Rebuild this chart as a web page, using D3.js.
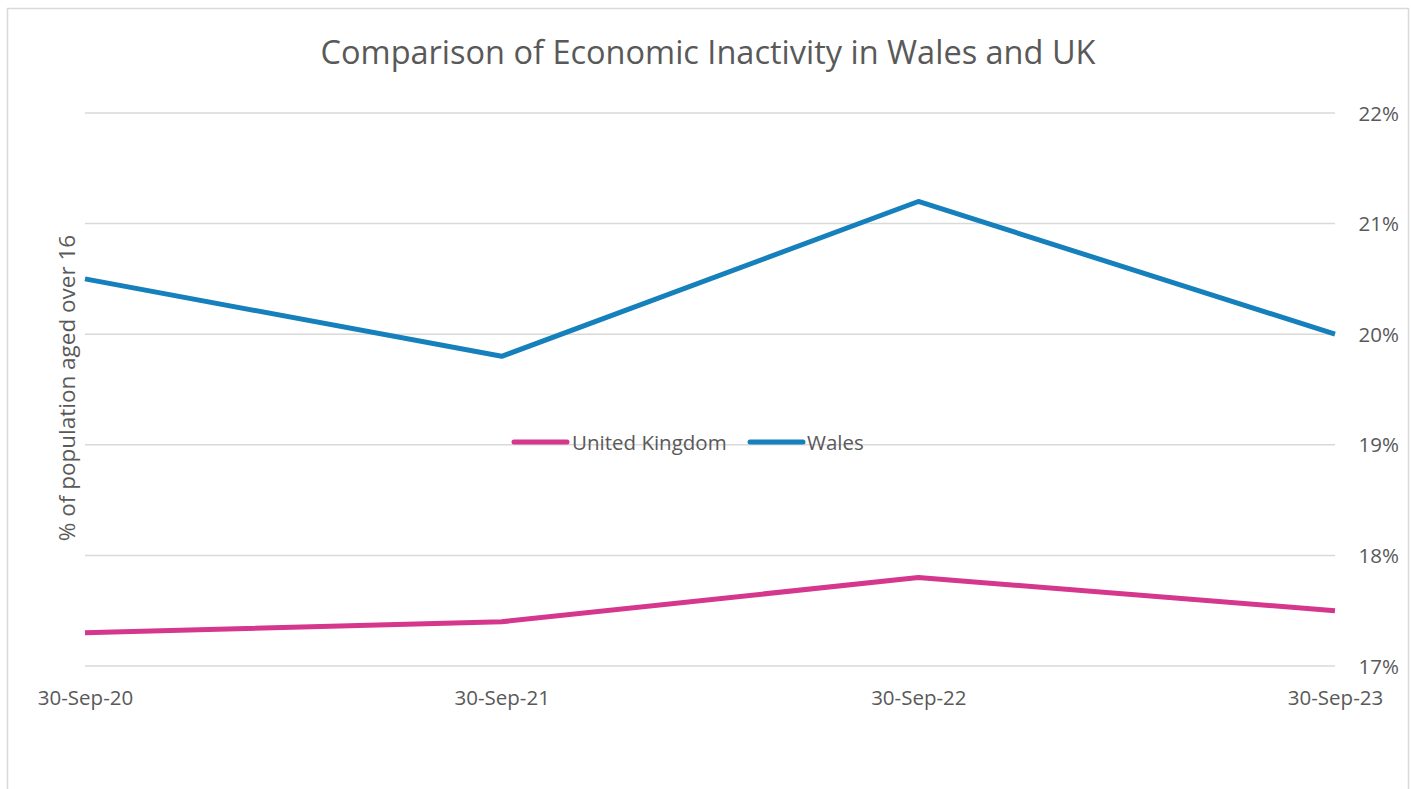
<!DOCTYPE html>
<html>
<head>
<meta charset="utf-8">
<script src="https://cdn.jsdelivr.net/npm/d3@7"></script>
<style>
  html, body { margin: 0; padding: 0; background: #fff; }
  svg { display: block; font-family: "Open Sans", "Noto Sans", sans-serif; }
</style>
</head>
<body>
<svg id="chart" width="1413" height="789"></svg>
<script>
// Economic inactivity, % of population aged over 16
const dates = ["30-Sep-20", "30-Sep-21", "30-Sep-22", "30-Sep-23"];
const ukValues = [17.3, 17.4, 17.8, 17.5];
const walesValues = [20.5, 19.8, 21.2, 20.0];
const yTicks = [17, 18, 19, 20, 21, 22];

const series = [
  { name: "United Kingdom", values: ukValues, color: "#D4378C" },
  { name: "Wales", values: walesValues, color: "#1580BC" }
];

const svg = d3.select("#chart");
const plot = { left: 85, right: 1335, top: 113, bottom: 666 };

// Outer chart frame
svg.append("rect")
  .attr("x", 7.5).attr("y", 8.5)
  .attr("width", 1401).attr("height", 800)
  .attr("fill", "#fff").attr("stroke", "#D9D9D9").attr("stroke-width", 1.5);

const x = d3.scalePoint().domain(dates).range([plot.left, plot.right]);
const y = d3.scaleLinear().domain([17, 22]).range([plot.bottom, plot.top]);

// Horizontal gridlines
svg.append("g")
  .selectAll("line")
  .data(yTicks)
  .join("line")
  .attr("x1", plot.left).attr("x2", plot.right)
  .attr("y1", d => y(d)).attr("y2", d => y(d))
  .attr("stroke", "#D9D9D9").attr("stroke-width", 1.5);

// Right-hand value axis
const yAxis = d3.axisRight(y).tickValues(yTicks).tickFormat(d => d + "%").tickSize(0).tickPadding(0);
const gy = svg.append("g").attr("transform", `translate(1399,0)`).call(yAxis);
gy.select(".domain").remove();
gy.selectAll("text")
  .attr("text-anchor", "end")
  .attr("dy", "0.35em")
  .attr("fill", "#595959")
  .style("font-size", "20.5px")
  .style("font-family", "'Open Sans', sans-serif");

// Category axis labels
const xAxis = d3.axisBottom(x).tickSize(0).tickPadding(0);
const gx = svg.append("g").attr("transform", `translate(0,${plot.bottom + 39})`).call(xAxis);
gx.select(".domain").remove();
gx.selectAll("text")
  .attr("dy", "0")
  .attr("fill", "#595959")
  .style("font-size", "20.5px")
  .style("font-family", "'Open Sans', sans-serif");

// Series lines
const line = d3.line()
  .x((d, i) => x(dates[i]))
  .y(d => y(d));

svg.append("g")
  .selectAll("path")
  .data(series)
  .join("path")
  .attr("d", s => line(s.values))
  .attr("fill", "none")
  .attr("stroke", s => s.color)
  .attr("stroke-width", 5)
  .attr("stroke-linejoin", "round");

// Title
svg.append("text")
  .attr("x", 708).attr("y", 64)
  .attr("text-anchor", "middle")
  .attr("fill", "#595959")
  .style("font-size", "32.5px")
  .text("Comparison of Economic Inactivity in Wales and UK");

// Vertical axis title
svg.append("text")
  .attr("transform", "translate(75,388) rotate(-90)")
  .attr("text-anchor", "middle")
  .attr("fill", "#595959")
  .style("font-size", "22.5px")
  .text("% of population aged over 16");

// Legend
const legendPos = [{ lx: 514, tx: 572 }, { lx: 750, tx: 807 }];
const lg = svg.append("g");
series.forEach((s, i) => {
  const p = legendPos[i];
  lg.append("line")
    .attr("x1", p.lx).attr("x2", p.lx + 53)
    .attr("y1", 442).attr("y2", 442)
    .attr("stroke", s.color).attr("stroke-width", 5)
    .attr("stroke-linecap", "round");
  lg.append("text")
    .attr("x", p.tx).attr("y", 450)
    .attr("fill", "#595959")
    .style("font-size", "20.5px")
    .text(s.name);
});
</script>
</body>
</html>
